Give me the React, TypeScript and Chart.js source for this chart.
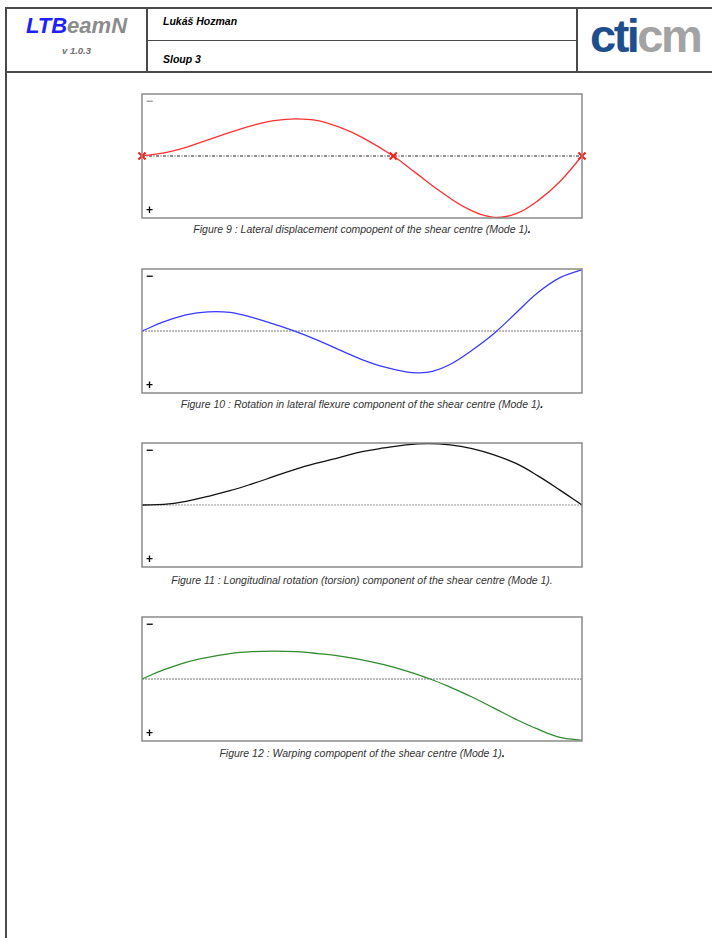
import React, { useEffect, useRef } from "react";
import { Chart, registerables } from "chart.js";
Chart.register(...registerables);

// ---- data (x = relative position along the member, y = normalised mode component; "−" up, "+" down) ----
const fig9X = [0, 0.05, 0.1, 0.15, 0.2, 0.25, 0.3, 0.35, 0.4, 0.45, 0.5, 0.571, 0.62, 0.68, 0.74, 0.8, 0.85, 0.9, 0.95, 1.0];
const fig9Y = [0, -0.05, -0.14, -0.26, -0.38, -0.49, -0.57, -0.6, -0.57, -0.46, -0.3, 0, 0.26, 0.58, 0.85, 0.99, 0.93, 0.72, 0.41, 0];
const fig9SupportsX = [0, 0.571, 1.0];

const fig10X = [0, 0.05, 0.1, 0.15, 0.2, 0.25, 0.3, 0.35, 0.4, 0.45, 0.5, 0.55, 0.6, 0.63, 0.66, 0.7, 0.75, 0.8, 0.85, 0.9, 0.95, 1.0];
const fig10Y = [0, -0.15, -0.26, -0.31, -0.3, -0.22, -0.11, 0.01, 0.15, 0.31, 0.46, 0.58, 0.66, 0.675, 0.65, 0.54, 0.31, 0.04, -0.29, -0.62, -0.86, -0.99];

const fig11X = [0, 0.05, 0.1, 0.15, 0.2, 0.25, 0.3, 0.35, 0.4, 0.45, 0.5, 0.55, 0.6, 0.65, 0.7, 0.75, 0.8, 0.85, 0.9, 0.95, 1.0];
const fig11Y = [0, -0.01, -0.06, -0.14, -0.23, -0.34, -0.46, -0.58, -0.68, -0.77, -0.86, -0.92, -0.97, -0.99, -0.97, -0.91, -0.81, -0.67, -0.47, -0.24, 0];

const fig12X = [0, 0.05, 0.1, 0.15, 0.2, 0.25, 0.3, 0.35, 0.4, 0.45, 0.5, 0.55, 0.6, 0.655, 0.7, 0.75, 0.8, 0.85, 0.9, 0.95, 1.0];
const fig12Y = [0, -0.15, -0.27, -0.35, -0.41, -0.44, -0.45, -0.44, -0.41, -0.37, -0.31, -0.23, -0.13, 0, 0.13, 0.29, 0.47, 0.65, 0.81, 0.94, 0.99];

const captions = [
  "Figure 9 : Lateral displacement compopent of the shear centre (Mode 1)",
  "Figure 10 : Rotation in lateral flexure component of the shear centre (Mode 1)",
  "Figure 11 : Longitudinal rotation (torsion) component of the shear centre (Mode 1)",
  "Figure 12 : Warping compopent of the shear centre (Mode 1)",
];

const FONT = "'Liberation Sans', Arial, sans-serif";

const framePlugin = {
  id: "frameSigns",
  afterDraw(chart: any, _args: any, opts: any) {
    const { ctx, chartArea } = chart;
    const { left, top, right, bottom } = chartArea;
    ctx.save();
    ctx.strokeStyle = "#8a8a8a";
    ctx.lineWidth = 1.5;
    ctx.strokeRect(left, top, right - left, bottom - top);
    ctx.fillStyle = opts.signColor || "#000";
    ctx.font = `bold 12px ${FONT}`;
    ctx.textBaseline = "middle";
    ctx.fillText("\u2212", left + 4, top + 8);
    ctx.fillStyle = "#000";
    ctx.fillText("+", left + 4, bottom - 7);
    ctx.restore();
  },
};

type PlotProps = {
  top: number;
  xs: number[];
  ys: number[];
  color: string;
  zeroColor: string;
  zeroDash: number[];
  supports?: number[];
  signColor?: string;
  caption: string;
  captionBoldDot: boolean;
  captionGap: number;
};

function ModePlot(p: PlotProps) {
  const ref = useRef<HTMLCanvasElement | null>(null);
  useEffect(() => {
    const datasets: any[] = [
      {
        label: "mode",
        data: p.xs.map((x, i) => ({ x, y: p.ys[i] })),
        borderColor: p.color,
        borderWidth: 1.3,
        pointRadius: 0,
        tension: 0.4,
        fill: false,
        order: 1,
      },
      {
        label: "zero",
        data: [
          { x: 0, y: 0 },
          { x: 1, y: 0 },
        ],
        borderColor: p.zeroColor,
        borderWidth: 1,
        borderDash: p.zeroDash,
        pointRadius: 0,
        fill: false,
        order: 2,
      },
    ];
    if (p.supports) {
      datasets.push({
        label: "supports",
        type: "scatter",
        data: p.supports.map((x) => ({ x, y: 0 })),
        pointStyle: "crossRot",
        pointRadius: 5,
        borderColor: "#ff1a1a",
        borderWidth: 2,
        showLine: false,
        order: 0,
      });
    }
    const chart = new Chart(ref.current as HTMLCanvasElement, {
      type: "line",
      data: { datasets },
      options: {
        responsive: false,
        animation: false,
        devicePixelRatio: 1,
        layout: { padding: 5, autoPadding: false },
        clip: false as any,
        plugins: {
          legend: { display: false },
          tooltip: { enabled: false },
          frameSigns: { signColor: p.signColor },
        } as any,
        scales: {
          x: { type: "linear", min: 0, max: 1, display: false },
          y: { type: "linear", min: -1, max: 1, reverse: true, display: false },
        },
      },
      plugins: [framePlugin],
    });
    return () => chart.destroy();
  }, []);
  const captionTop = p.top + 5 + 124 + p.captionGap;
  return (
    <>
      <canvas
        ref={ref}
        width={450}
        height={134}
        style={{ position: "absolute", left: 137, top: p.top, width: 450, height: 134 }}
      />
      <div
        style={{
          position: "absolute",
          left: 62,
          width: 600,
          top: captionTop,
          textAlign: "center",
          fontFamily: FONT,
          fontStyle: "italic",
          fontSize: 10.5,
          color: "#333",
          lineHeight: "12px",
          whiteSpace: "nowrap",
        }}
      >
        {p.caption}
        {p.captionBoldDot ? <b style={{ color: "#000" }}>.</b> : "."}
      </div>
    </>
  );
}

export default function App() {
  const line = "#4a4a4a";
  return (
    <div style={{ position: "absolute", left: 0, top: 0, width: 712, height: 938, background: "#fff", overflow: "hidden" }}>
      {/* header frame */}
      <div style={{ position: "absolute", left: 6, top: 7, width: 706, height: 1.5, background: line }} />
      <div style={{ position: "absolute", left: 6, top: 71, width: 706, height: 1.5, background: line }} />
      <div style={{ position: "absolute", left: 5, top: 7, width: 2, height: 931, background: line }} />
      <div style={{ position: "absolute", left: 146, top: 7, width: 1.5, height: 66, background: line }} />
      <div style={{ position: "absolute", left: 576, top: 7, width: 1.5, height: 66, background: line }} />
      <div style={{ position: "absolute", left: 146, top: 39.5, width: 431, height: 1.2, background: line }} />

      {/* LTBeamN logo */}
      <div
        style={{
          position: "absolute",
          left: 7,
          width: 139,
          top: 13,
          textAlign: "center",
          fontFamily: FONT,
          fontWeight: "bold",
          fontStyle: "italic",
          fontSize: 22,
          lineHeight: "26px",
          whiteSpace: "nowrap",
        }}
      >
        <span style={{ color: "#1f1fff" }}>LTB</span>
        <span style={{ color: "#8c8c8c" }}>eamN</span>
      </div>
      <div
        style={{
          position: "absolute",
          left: 7,
          width: 139,
          top: 45,
          textAlign: "center",
          fontFamily: FONT,
          fontWeight: "bold",
          fontStyle: "italic",
          fontSize: 9.5,
          color: "#707070",
          lineHeight: "12px",
        }}
      >
        v 1.0.3
      </div>

      {/* author / project */}
      <div style={{ position: "absolute", left: 163, top: 14, fontFamily: FONT, fontWeight: "bold", fontStyle: "italic", fontSize: 10.5, lineHeight: "14px", color: "#000" }}>
        Lukáš Hozman
      </div>
      <div style={{ position: "absolute", left: 163, top: 52, fontFamily: FONT, fontWeight: "bold", fontStyle: "italic", fontSize: 10.5, lineHeight: "14px", color: "#000" }}>
        Sloup 3
      </div>

      {/* cticm logo */}
      <div
        style={{
          position: "absolute",
          left: 590,
          top: 8,
          fontFamily: FONT,
          fontWeight: "bold",
          fontSize: 47,
          lineHeight: "56px",
          letterSpacing: -2.5,
          whiteSpace: "nowrap",
        }}
      >
        <span style={{ color: "#1e4f8c" }}>cti</span>
        <span style={{ color: "#a3a3a3" }}>cm</span>
      </div>

      <ModePlot top={89} xs={fig9X} ys={fig9Y} color="#ff3030" zeroColor="#222" zeroDash={[3, 1.5, 1, 1.5]} supports={fig9SupportsX} signColor="#999" caption={captions[0]} captionBoldDot={true} captionGap={5} />
      <ModePlot top={264} xs={fig10X} ys={fig10Y} color="#3a3aff" zeroColor="#777" zeroDash={[2, 1]} caption={captions[1]} captionBoldDot={true} captionGap={5} />
      <ModePlot top={438} xs={fig11X} ys={fig11Y} color="#111" zeroColor="#999" zeroDash={[2, 1]} caption={captions[2]} captionBoldDot={false} captionGap={7} />
      <ModePlot top={612} xs={fig12X} ys={fig12Y} color="#2e8b2e" zeroColor="#777" zeroDash={[2, 1]} caption={captions[3]} captionBoldDot={true} captionGap={6} />
    </div>
  );
}
